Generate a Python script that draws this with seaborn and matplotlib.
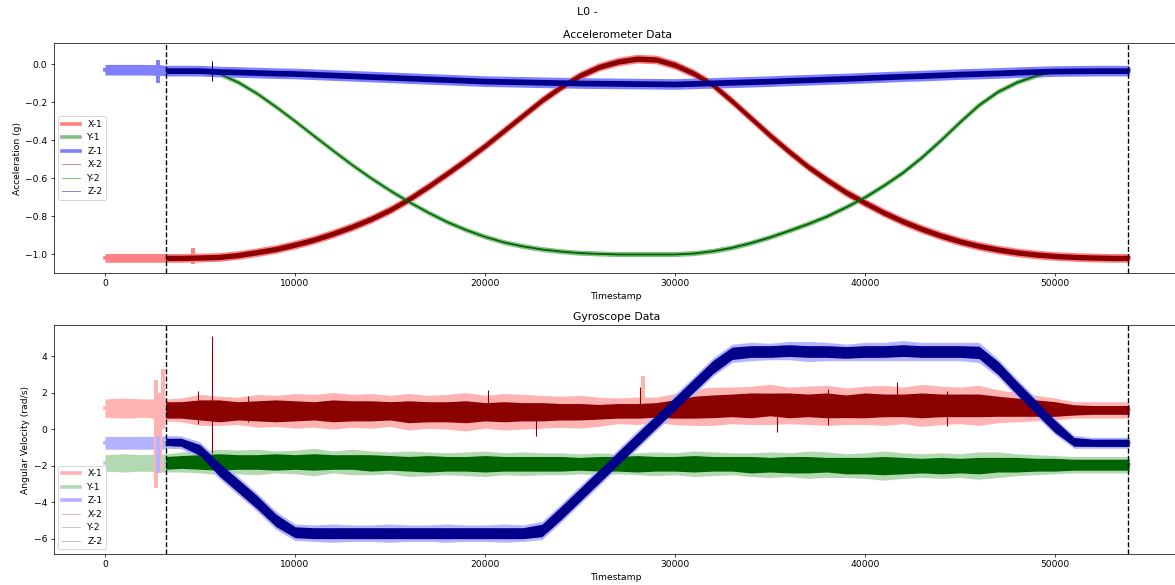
import numpy as np
import matplotlib
matplotlib.use("Agg")
import matplotlib.pyplot as plt
from matplotlib.lines import Line2D
import seaborn as sns

# ---------------- data ----------------
# sample timestamps; sensor 2 starts at index 4 (t = 3200)
T = [0, 1000, 2000, 3000, 3200] + list(range(4000, 54000, 1000)) + [53900]
START2 = 4
MARKERS = [3200, 53850]          # dashed vertical lines

SERIES = ["X", "Y", "Z"]

# Accelerometer centre values (g)
ACC_X = [-1.02, -1.02, -1.02, -1.02, -1.02,
         -1.02, -1.018, -1.015, -1.005, -0.99, -0.973, -0.95, -0.924, -0.892, -0.856,
         -0.815, -0.767, -0.71, -0.645, -0.576, -0.505, -0.43, -0.35, -0.27, -0.19,
         -0.12, -0.06, -0.015, 0.013, 0.028, 0.024, -0.005, -0.05, -0.11, -0.195,
         -0.285, -0.375, -0.46, -0.54, -0.61, -0.675, -0.73, -0.782, -0.828, -0.868,
         -0.903, -0.933, -0.957, -0.976, -0.991, -1.002, -1.01, -1.015, -1.018, -1.02,
         -1.02]
ACC_Y = [-0.03, -0.03, -0.03, -0.03, -0.03,
         -0.03, -0.032, -0.05, -0.095, -0.155, -0.225, -0.30, -0.378, -0.455, -0.53,
         -0.60, -0.665, -0.725, -0.78, -0.83, -0.872, -0.908, -0.937, -0.958, -0.974,
         -0.985, -0.993, -0.997, -1.0, -1.0, -1.0, -1.0, -0.995, -0.983, -0.965,
         -0.94, -0.91, -0.876, -0.84, -0.8, -0.752, -0.70, -0.638, -0.57, -0.49,
         -0.40, -0.305, -0.215, -0.145, -0.095, -0.06, -0.04, -0.032, -0.03, -0.03,
         -0.03]
ACC_Z = [-0.03, -0.03, -0.03, -0.032, -0.035,
         -0.035, -0.035, -0.04, -0.042, -0.045, -0.048, -0.05, -0.054, -0.058, -0.062,
         -0.066, -0.07, -0.074, -0.078, -0.082, -0.086, -0.09, -0.092, -0.094, -0.096,
         -0.098, -0.10, -0.101, -0.102, -0.103, -0.104, -0.105, -0.102, -0.099, -0.096,
         -0.093, -0.09, -0.086, -0.083, -0.079, -0.076, -0.072, -0.068, -0.064, -0.061,
         -0.057, -0.053, -0.05, -0.047, -0.043, -0.04, -0.037, -0.036, -0.035, -0.035,
         -0.035]
# noise half-widths (g) of sensor-1 / sensor-2 bands
ACC_HW1 = {"X": 0.023, "Y": 0.013, "Z": 0.028}
ACC_HW2 = {"X": 0.014, "Y": 0.004, "Z": 0.015}

# Gyroscope centre values (rad/s)
GYR_X = [1.15, 1.15, 1.15, 1.1, 1.05,
         1.05, 1.05, 1.0, 1.0, 1.0, 1.0, 1.0, 1.0, 1.0, 1.0,
         1.0, 1.0, 0.95, 0.95, 0.95, 0.95, 0.95, 0.95, 0.95, 0.95,
         0.95, 0.95, 0.95, 1.0, 1.0, 1.05, 1.1, 1.2, 1.25, 1.3,
         1.3, 1.35, 1.3, 1.3, 1.3, 1.25, 1.3, 1.3, 1.3, 1.3,
         1.3, 1.3, 1.3, 1.25, 1.2, 1.15, 1.1, 1.05, 1.05, 1.05,
         1.05]
GYR_Y = [-1.85, -1.85, -1.85, -1.85, -1.85,
         -1.8, -1.8, -1.8, -1.8, -1.8, -1.8, -1.8, -1.8, -1.8, -1.8,
         -1.85, -1.85, -1.9, -1.9, -1.9, -1.9, -1.9, -1.9, -1.9, -1.9,
         -1.9, -1.9, -1.9, -1.9, -1.9, -1.9, -1.9, -1.9, -1.9, -1.9,
         -1.95, -1.95, -1.95, -1.95, -1.95, -2.0, -2.0, -2.0, -2.0, -2.0,
         -2.0, -2.0, -2.0, -1.95, -1.95, -1.95, -1.95, -1.95, -1.95, -1.95,
         -1.95]
GYR_Z = [-0.75, -0.75, -0.75, -0.75, -0.7,
         -0.72, -1.15, -2.2, -3.1, -4.0, -5.0, -5.65, -5.7, -5.7, -5.7,
         -5.7, -5.7, -5.7, -5.7, -5.7, -5.7, -5.7, -5.7, -5.7, -5.55,
         -4.6, -3.6, -2.6, -1.6, -0.6, 0.4, 1.4, 2.4, 3.4, 4.15,
         4.25, 4.25, 4.3, 4.25, 4.25, 4.2, 4.25, 4.25, 4.3, 4.25,
         4.25, 4.25, 4.2, 3.35, 2.25, 1.2, 0.15, -0.7, -0.75, -0.75,
         -0.75]
GYR_X_HW1 = [0.5, 0.55, 0.5, 0.55, 0.6,
             0.65, 0.85, 0.8, 0.75, 0.9, 0.85, 0.95, 0.9, 1.0, 0.9,
             0.95, 0.85, 1.0, 0.9, 0.95, 1.05, 0.9, 1.0, 0.95, 0.9,
             0.85, 0.9, 0.8, 0.7, 0.75, 0.7, 0.85, 1.0, 1.05, 1.0,
             1.05, 1.1, 1.0, 1.05, 1.1, 1.0, 1.05, 1.1, 1.0, 1.15,
             1.05, 1.0, 1.1, 0.9, 0.8, 0.7, 0.6, 0.45, 0.45, 0.45,
             0.45]
GYR_X_HW2 = [0.5, 0.5, 0.5, 0.5, 0.45,
             0.45, 0.55, 0.6, 0.5, 0.55, 0.6, 0.55, 0.5, 0.6, 0.55,
             0.55, 0.5, 0.6, 0.55, 0.55, 0.6, 0.5, 0.55, 0.5, 0.5,
             0.45, 0.45, 0.4, 0.4, 0.4, 0.4, 0.5, 0.6, 0.62, 0.62,
             0.68, 0.62, 0.68, 0.62, 0.68, 0.62, 0.68, 0.62, 0.62, 0.68,
             0.62, 0.62, 0.62, 0.55, 0.5, 0.45, 0.4, 0.28, 0.24, 0.24,
             0.24]
GYR_Y_HW1 = [0.45, 0.5, 0.45, 0.5, 0.5,
             0.55, 0.6, 0.7, 0.65, 0.7, 0.6, 0.65, 0.75, 0.6, 0.7,
             0.65, 0.6, 0.7, 0.65, 0.6, 0.65, 0.7, 0.6, 0.65, 0.6,
             0.6, 0.55, 0.6, 0.55, 0.6, 0.65, 0.6, 0.7, 0.65, 0.6,
             0.65, 0.7, 0.65, 0.75, 0.7, 0.65, 0.7, 0.8, 0.7, 0.65,
             0.7, 0.65, 0.75, 0.7, 0.6, 0.55, 0.5, 0.45, 0.45, 0.45,
             0.45]
GYR_Y_HW2 = [0.35, 0.35, 0.35, 0.35, 0.35,
             0.35, 0.4, 0.45, 0.4, 0.4, 0.45, 0.4, 0.45, 0.4, 0.4,
             0.45, 0.4, 0.4, 0.45, 0.4, 0.4, 0.45, 0.4, 0.4, 0.4,
             0.4, 0.35, 0.4, 0.4, 0.45, 0.4, 0.4, 0.45, 0.4, 0.4,
             0.45, 0.4, 0.45, 0.45, 0.4, 0.45, 0.45, 0.5, 0.45, 0.4,
             0.45, 0.4, 0.45, 0.4, 0.4, 0.35, 0.35, 0.3, 0.3, 0.3,
             0.3]
GYR_Z_HW1 = [0.35, 0.35, 0.35, 0.35, 0.35,
             0.35, 0.45, 0.5, 0.5, 0.5, 0.5, 0.45, 0.45, 0.5, 0.45,
             0.45, 0.5, 0.45, 0.45, 0.5, 0.45, 0.45, 0.5, 0.45, 0.5,
             0.5, 0.5, 0.5, 0.5, 0.5, 0.5, 0.5, 0.5, 0.5, 0.5,
             0.5, 0.45, 0.5, 0.55, 0.5, 0.45, 0.5, 0.5, 0.55, 0.5,
             0.5, 0.5, 0.55, 0.5, 0.5, 0.5, 0.45, 0.35, 0.3, 0.3,
             0.3]
GYR_Z_HW2 = [0.2, 0.2, 0.2, 0.2, 0.2,
             0.22, 0.3, 0.36, 0.36, 0.36, 0.34, 0.3, 0.3, 0.3, 0.3,
             0.3, 0.3, 0.3, 0.3, 0.3, 0.3, 0.3, 0.3, 0.3, 0.34,
             0.36, 0.36, 0.36, 0.36, 0.36, 0.36, 0.36, 0.36, 0.36, 0.34,
             0.32, 0.32, 0.32, 0.32, 0.32, 0.32, 0.32, 0.32, 0.32, 0.32,
             0.32, 0.32, 0.34, 0.36, 0.36, 0.36, 0.34, 0.24, 0.2, 0.2,
             0.2]

# isolated spikes: (series label, timestamp, low, high)
ACC_SPIKE_LABEL = ["Z-1", "X-1", "Z-2"]
ACC_SPIKE_T = [2800, 4650, 5630]
ACC_SPIKE_LO = [-0.10, -1.05, -0.09]
ACC_SPIKE_HI = [0.02, -0.97, 0.015]

GYR_SPIKE_LABEL = ["X-1", "X-1", "X-1", "Z-1", "X-1",
                   "X-2", "X-2", "X-2", "X-2", "X-2", "X-2", "X-2", "X-2", "X-2", "X-2"]
GYR_SPIKE_T = [2700, 2880, 3050, 2800, 28300,
               4900, 5650, 7530, 20160, 22700, 28150, 35370, 38050, 41680, 44300]
GYR_SPIKE_LO = [-3.2, -2.4, 0.0, -2.4, 1.0,
                0.3, -1.3, 0.4, 0.5, -0.4, 0.6, -0.15, 0.2, 0.7, 0.15]
GYR_SPIKE_HI = [2.7, 2.0, 3.3, -0.4, 2.9,
                2.1, 5.1, 1.8, 2.14, 1.3, 2.3, 2.0, 2.2, 2.6, 2.1]

# ---------------- styling ----------------
BASE = {"X": "red", "Y": "green", "Z": "blue"}
DARK = {"X": "darkred", "Y": "darkgreen", "Z": "darkblue"}
LIGHT_ACC = {"X": "#ff8080", "Y": "#80c080", "Z": "#8080ff"}   # alpha 0.5 on white
LIGHT_GYR = {"X": "#ffb3b3", "Y": "#b3d9b3", "Z": "#b3b3ff"}   # alpha 0.3 on white

DPI = 1175 / 18
fig = plt.figure(figsize=(18, 585 / DPI), dpi=DPI)
ax1 = fig.add_axes([0.0458, 0.5338, 0.9587, 0.3922])
ax2 = fig.add_axes([0.0458, 0.0530, 0.9587, 0.3914])


def draw_panel(ax, centers, hw1, hw2, light, alpha, spikes):
    t = np.array(T, dtype=float)
    t2 = t[START2:]
    for s in SERIES:
        c = np.array(centers[s], dtype=float)
        h = np.broadcast_to(np.array(hw1[s], dtype=float), c.shape)
        ax.fill_between(t, c - h, c + h, color=light[s], linewidth=0, zorder=1)
        sns.lineplot(x=t, y=c, ax=ax, color=light[s], linewidth=4,
                     legend=False, zorder=1)
    labels, st, lo, hi = spikes
    for lab, x, a, b in zip(labels, st, lo, hi):
        if lab.endswith("-1"):
            ax.vlines(x, a, b, color=light[lab[0]], linewidth=4.5, zorder=1)
    for s in SERIES:
        full = np.array(centers[s], dtype=float)
        c = full[START2:]
        h = np.broadcast_to(np.array(hw2[s], dtype=float), full.shape)[START2:]
        ax.fill_between(t2, c - h, c + h, color=DARK[s], linewidth=0, zorder=2)
        sns.lineplot(x=t2, y=c, ax=ax, color=DARK[s], linewidth=1,
                     legend=False, zorder=2)
    for lab, x, a, b in zip(labels, st, lo, hi):
        if lab.endswith("-2"):
            ax.vlines(x, a, b, color=DARK[lab[0]], linewidth=1.2, zorder=2)
    for m in MARKERS:
        ax.axvline(m, color="k", linestyle="--", linewidth=1.5, zorder=5)
    handles = [Line2D([], [], color=BASE[s], lw=4, alpha=alpha, label=f"{s}-1") for s in SERIES]
    handles += [Line2D([], [], color=DARK[s], lw=1, alpha=alpha, label=f"{s}-2") for s in SERIES]
    return handles


h1 = draw_panel(ax1, {"X": ACC_X, "Y": ACC_Y, "Z": ACC_Z}, ACC_HW1, ACC_HW2,
                LIGHT_ACC, 0.5,
                (ACC_SPIKE_LABEL, ACC_SPIKE_T, ACC_SPIKE_LO, ACC_SPIKE_HI))
h2 = draw_panel(ax2, {"X": GYR_X, "Y": GYR_Y, "Z": GYR_Z},
                {"X": GYR_X_HW1, "Y": GYR_Y_HW1, "Z": GYR_Z_HW1},
                {"X": GYR_X_HW2, "Y": GYR_Y_HW2, "Z": GYR_Z_HW2},
                LIGHT_GYR, 0.3,
                (GYR_SPIKE_LABEL, GYR_SPIKE_T, GYR_SPIKE_LO, GYR_SPIKE_HI))

ax1.set_xlim(-2695, 56595)
ax2.set_xlim(-2695, 56595)
ax1.set_ylim(-1.098, 0.109)
ax2.set_ylim(-6.84, 5.70)
ax1.set_yticks([-1.0, -0.8, -0.6, -0.4, -0.2, 0.0])
ax2.set_yticks([-6, -4, -2, 0, 2, 4])
for ax in (ax1, ax2):
    ax.set_xticks([0, 10000, 20000, 30000, 40000, 50000])
    ax.set_xlabel("Timestamp")

ax1.set_title("Accelerometer Data")
ax1.set_ylabel("Acceleration (g)")
ax2.set_title("Gyroscope Data")
ax2.set_ylabel("Angular Velocity (rad/s)")
ax1.legend(handles=h1, loc="center left")
ax2.legend(handles=h2, loc="lower left")
fig.suptitle("L0 -", y=0.988)

fig.savefig("out.png", dpi=DPI)
